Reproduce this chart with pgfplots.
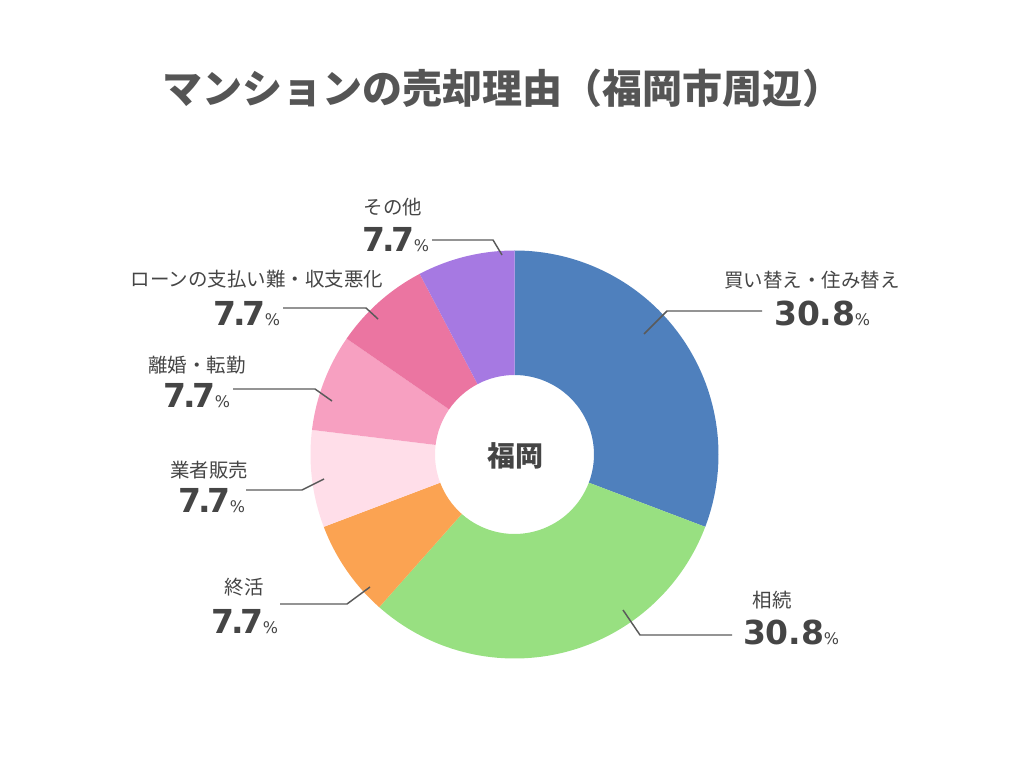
\documentclass[border=0pt]{standalone}
\usepackage{pgfplots}
\usepackage{pgfplotstable}
\pgfplotsset{compat=1.18}
\usepackage{fontspec}
\setmainfont{Noto Sans CJK JP}
\newfontfamily\numfont{DejaVu Sans}

\definecolor{wc0}{HTML}{4F80BD}
\definecolor{wc1}{HTML}{98E081}
\definecolor{wc2}{HTML}{FBA352}
\definecolor{wc3}{HTML}{FFDEE9}
\definecolor{wc4}{HTML}{F7A0C1}
\definecolor{wc5}{HTML}{EB75A1}
\definecolor{wc6}{HTML}{A679E2}
\definecolor{txt}{HTML}{454545}
\definecolor{ttl}{HTML}{555555}
\definecolor{lead}{HTML}{5A5A5A}

% counts behind the shares (4/13 = 30.8%, 1/13 = 7.7%), clockwise from the top
\pgfplotstableread[col sep=comma]{
count,pct
4,30.8
4,30.8
1,7.7
1,7.7
1,7.7
1,7.7
1,7.7
}\shares

% donut geometry, in pixels of the 1024x768 frame
\def\cx{514.5}
\def\cy{313.5}
\def\Ro{204}
\def\Ri{79.5}

% total and start/end angle of each wedge
\gdef\tot{0}
\foreach \i in {0,...,6}{%
  \pgfplotstablegetelem{\i}{count}\of\shares
  \pgfmathsetmacro\newtot{\tot+\pgfplotsretval}%
  \xdef\tot{\newtot}%
}
\gdef\cum{0}
\foreach \i in {0,...,6}{%
  \pgfplotstablegetelem{\i}{count}\of\shares
  \pgfmathsetmacro\newcum{\cum+\pgfplotsretval}%
  \pgfmathsetmacro\aa{90-360*\cum/\tot}%
  \pgfmathsetmacro\bb{90-360*\newcum/\tot}%
  \expandafter\xdef\csname ta\i\endcsname{\aa}%
  \expandafter\xdef\csname tb\i\endcsname{\bb}%
  \xdef\cum{\newcum}%
}

\newcommand\lbl{\fontsize{14.6pt}{17pt}\selectfont}
\newcommand\pct[1]{{\numfont\bfseries\fontsize{24.75pt}{28pt}\selectfont #1}\hspace{-0.5pt}{\numfont\fontsize{12pt}{13pt}\selectfont\%}}
\newcommand\sev{\pct{7\kern-2.5pt.\kern-2.5pt7}}

\begin{document}
\begin{tikzpicture}
\begin{axis}[
    x=0.75pt, y=0.75pt,
    xmin=0, xmax=1024, ymin=0, ymax=768,
    enlargelimits=false,
    hide axis,
    clip=false,
]
\path (axis cs:0,0) rectangle (axis cs:1024,768);

% wedges
\pgfplotsinvokeforeach{0,...,6}{%
  \edef\temp{\noexpand\fill[wc#1]
    (axis cs:{\cx+\Ro*cos(\csname ta#1\endcsname)},{\cy+\Ro*sin(\csname ta#1\endcsname)})
    arc[start angle=\csname ta#1\endcsname, end angle=\csname tb#1\endcsname, radius=\Ro*0.75pt]
    -- (axis cs:{\cx+\Ri*cos(\csname tb#1\endcsname)},{\cy+\Ri*sin(\csname tb#1\endcsname)})
    arc[start angle=\csname tb#1\endcsname, end angle=\csname ta#1\endcsname, radius=\Ri*0.75pt]
    -- cycle;}%
  \temp
}

% leader lines
\addplot[lead, line width=1.1pt, no marks] coordinates {(644,434) (667,457) (762,457)};
\addplot[lead, line width=1.1pt, no marks] coordinates {(623,158) (640,133) (732,133)};
\addplot[lead, line width=1.1pt, no marks] coordinates {(370,181) (347,164) (280,164)};
\addplot[lead, line width=1.1pt, no marks] coordinates {(324,289) (302,278) (246,278)};
\addplot[lead, line width=1.1pt, no marks] coordinates {(332,367) (315,379) (233,379)};
\addplot[lead, line width=1.1pt, no marks] coordinates {(378,449) (366,460) (283,460)};
\addplot[lead, line width=1.1pt, no marks] coordinates {(502,513) (493,528) (432,528)};

% title and centre
\node[text=ttl, inner sep=0pt] at (axis cs:502,680)
  {\fontsize{30pt}{35pt}\selectfont\bfseries マンションの売却理由（福岡市周辺）};
\node[text=txt, inner sep=0pt] at (axis cs:515,312)
  {\fontsize{21pt}{25pt}\selectfont\bfseries 福岡};

% category labels
\node[text=txt, inner sep=0pt] at (axis cs:812,488) {\lbl 買い替え・住み替え};
\node[text=txt, inner sep=0pt] at (axis cs:772,168) {\lbl 相続};
\node[text=txt, inner sep=0pt] at (axis cs:244,181) {\lbl 終活};
\node[text=txt, inner sep=0pt] at (axis cs:209,298) {\lbl 業者販売};
\node[text=txt, inner sep=0pt] at (axis cs:197,403) {\lbl 離婚・転勤};
\node[text=txt, inner sep=0pt] at (axis cs:257,489) {\lbl ローンの支払い難・収支悪化};
\node[text=txt, inner sep=0pt] at (axis cs:393,561) {\lbl その他};

% shares
\node[text=txt, inner sep=0pt, anchor=base] at (axis cs:822,442) {\pct{30.8}};
\node[text=txt, inner sep=0pt, anchor=base] at (axis cs:791,124) {\pct{30.8}};
\node[text=txt, inner sep=0pt, anchor=base] at (axis cs:245,135) {\sev};
\node[text=txt, inner sep=0pt, anchor=base] at (axis cs:212,255) {\sev};
\node[text=txt, inner sep=0pt, anchor=base] at (axis cs:197,360) {\sev};
\node[text=txt, inner sep=0pt, anchor=base] at (axis cs:247,442) {\sev};
\node[text=txt, inner sep=0pt, anchor=base] at (axis cs:396,516) {\sev};
\end{axis}
\end{tikzpicture}
\end{document}
